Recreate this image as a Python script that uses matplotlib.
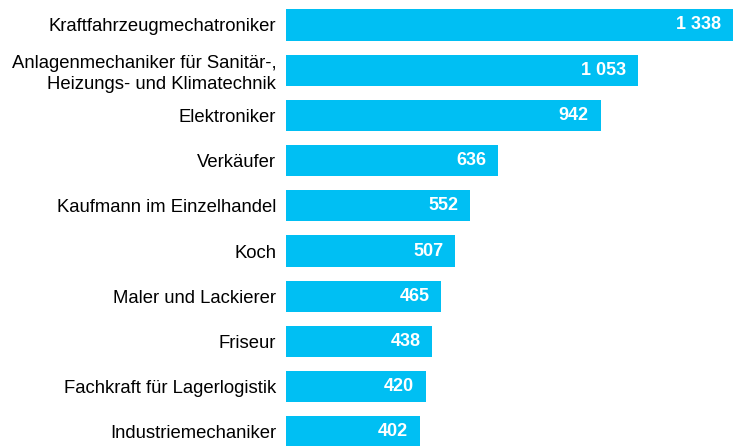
import matplotlib
matplotlib.use("Agg")
from matplotlib import pyplot as plt

plt.rcParams['font.family'] = ['Liberation Sans', 'DejaVu Sans']

berufe = [
    "Kraftfahrzeugmechatroniker",
    "Anlagenmechaniker für Sanitär-,\nHeizungs- und Klimatechnik",
    "Elektroniker",
    "Verkäufer",
    "Kaufmann im Einzelhandel",
    "Koch",
    "Maler und Lackierer",
    "Friseur",
    "Fachkraft für Lagerlogistik",
    "Industriemechaniker",
]
werte = [1338, 1053, 942, 636, 552, 507, 465, 438, 420, 402]

fig = plt.figure(figsize=(7.34, 4.46), dpi=100)
ax = fig.add_axes([286 / 734, 0, 447 / 734, 1])

y = list(range(len(werte)))
ax.barh(y, werte, height=0.69, color="#00BFF3")

for yi, w in zip(y, werte):
    txt = f"{w:,}".replace(",", " ")
    ax.text(w - 1338 * 0.027, yi, txt, ha="right", va="center",
            color="white", fontweight="bold", fontsize=13)

ax.set_yticks(y)
ax.set_yticklabels(berufe, fontsize=13.3, linespacing=1.3)
ax.tick_params(axis="y", length=0, pad=7)
ax.set_xticks([])
ax.set_xlim(0, 1338)
ax.set_ylim(9.314, -0.553)
for s in ax.spines.values():
    s.set_visible(False)

fig.savefig("out.png", dpi=100)
